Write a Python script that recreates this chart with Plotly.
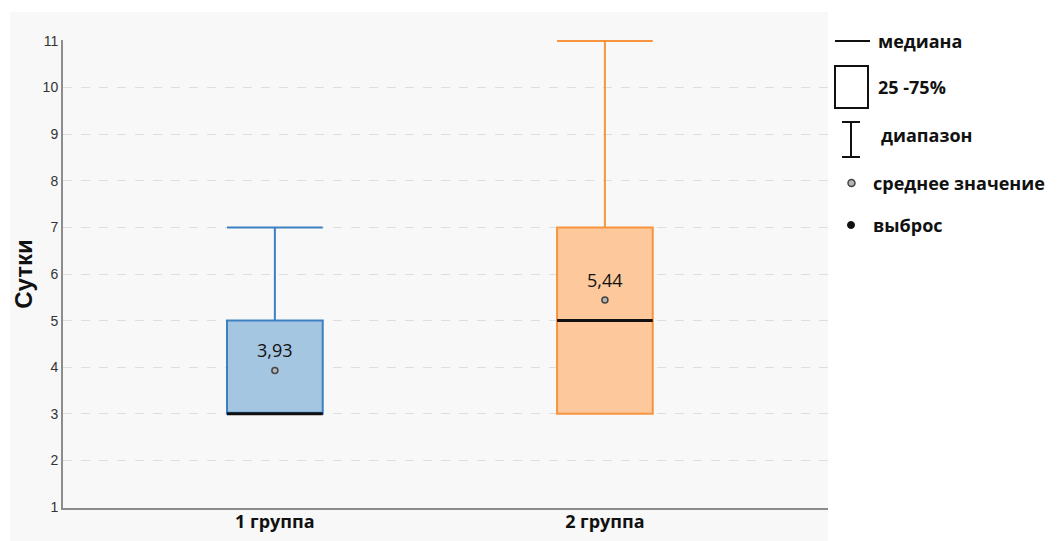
import plotly.graph_objects as go

# ---- data ----
groups = ["1 группа", "2 группа"]
positions = [0, 1]
q1 = [3, 3]
median = [3, 5]
q3 = [5, 7]
lowerfence = [3, 3]
upperfence = [7, 11]
means = [3.93, 5.44]
fills = ["#a5c6e1", "#fdc89b"]
lines = ["#3d80c1", "#f7943f"]
y_ticks = list(range(1, 12))

legend_labels = ["медиана", "25 -75%", "диапазон", "среднее значение", "выброс"]

BW = 0.29

fig = go.Figure()

for i in range(2):
    fig.add_trace(go.Box(
        x=[positions[i]], q1=[q1[i]], median=[median[i]], q3=[q3[i]],
        lowerfence=[lowerfence[i]], upperfence=[upperfence[i]],
        width=BW, whiskerwidth=1, boxpoints=False,
        fillcolor=fills[i], line=dict(color=lines[i], width=2),
        showlegend=False, hoverinfo="skip"))
    fig.add_trace(go.Scatter(
        x=[positions[i] - BW / 2, positions[i] + BW / 2], y=[median[i], median[i]],
        mode="lines", line=dict(color="#111111", width=3),
        showlegend=False, hoverinfo="skip"))

fig.add_trace(go.Scatter(
    x=positions, y=means, mode="markers",
    marker=dict(size=6, color="#b5b5b5", line=dict(color="#444444", width=1.5)),
    showlegend=False, hoverinfo="skip"))

for i in range(2):
    fig.add_annotation(x=positions[i], y=means[i], text=f"{means[i]:.2f}".replace(".", ","),
                       showarrow=False, yshift=20,
                       font=dict(family="Open Sans", size=18, color="#111111"))

# ---- geometry helpers (screen px -> paper) ----
PW, PH = 765.0, 468.0
L, T = 63.0, 40.0
def px(x):
    return (x - L) / PW
def py(y):
    return 1 - (y - T) / PH

# background panel
fig.add_shape(type="rect", xref="paper", yref="paper", x0=px(10), x1=1.0, y0=py(545), y1=py(12),
              fillcolor="#f8f8f8", line=dict(width=0), layer="below")

# ---- custom legend ----
blk = "#111111"
fig.add_shape(type="line", xref="paper", yref="paper", x0=px(835), x1=px(870), y0=py(41), y1=py(41),
              line=dict(color=blk, width=2))
fig.add_shape(type="rect", xref="paper", yref="paper", x0=px(835), x1=px(868), y0=py(108), y1=py(66),
              line=dict(color=blk, width=2), fillcolor="white")
fig.add_shape(type="line", xref="paper", yref="paper", x0=px(851), x1=px(851), y0=py(157), y1=py(122),
              line=dict(color=blk, width=2))
fig.add_shape(type="line", xref="paper", yref="paper", x0=px(842), x1=px(860), y0=py(122), y1=py(122),
              line=dict(color=blk, width=2))
fig.add_shape(type="line", xref="paper", yref="paper", x0=px(842), x1=px(860), y0=py(157), y1=py(157),
              line=dict(color=blk, width=2))
fig.add_shape(type="circle", xref="paper", yref="paper", x0=px(848), x1=px(855), y0=py(186.5), y1=py(179.5),
              line=dict(color="#444444", width=1.5), fillcolor="#b5b5b5")
fig.add_shape(type="circle", xref="paper", yref="paper", x0=px(847.5), x1=px(854.5), y0=py(228.5), y1=py(221.5),
              line=dict(color=blk, width=1), fillcolor=blk)

leg_pos = [(876, 41), (876, 87), (879, 135), (871, 183), (871, 225)]
for lab, (lx, ly) in zip(legend_labels, leg_pos):
    fig.add_annotation(xref="paper", yref="paper", x=px(lx), y=py(ly), text=f"<b>{lab}</b>",
                       showarrow=False, xanchor="left", yanchor="middle",
                       font=dict(family="Open Sans", size=18, color=blk))

# page body has an 8px margin; figure is sized so the plot lands where the reference has it
fig.update_layout(
    width=1050, height=533,
    margin=dict(l=55, r=230, t=32, b=33, autoexpand=False),
    paper_bgcolor="white", plot_bgcolor="#f8f8f8",
    xaxis=dict(range=[-0.642, 1.676], tickvals=positions,
               ticktext=[f"<b>{g}</b>" for g in groups],
               showgrid=False, zeroline=False, showline=True, linecolor="#8c8c8c", linewidth=2,
               tickfont=dict(family="Open Sans", size=18, color=blk), ticks="", automargin=False,
               ticklabelstandoff=-4),
    yaxis=dict(range=[0.98, 11.02], tickvals=y_ticks, showgrid=True, gridcolor="#dedede", griddash="dash",
               gridwidth=1, zeroline=False, showline=True, linecolor="#8c8c8c", linewidth=2,
               tickfont=dict(family="Liberation Sans", size=14, color="#333333"), ticks="",
               automargin=False,
               title=dict(text="<b>Сутки</b>", font=dict(family="Liberation Sans", size=24, color=blk),
                          standoff=3)),
)

fig.write_html("out.html")
